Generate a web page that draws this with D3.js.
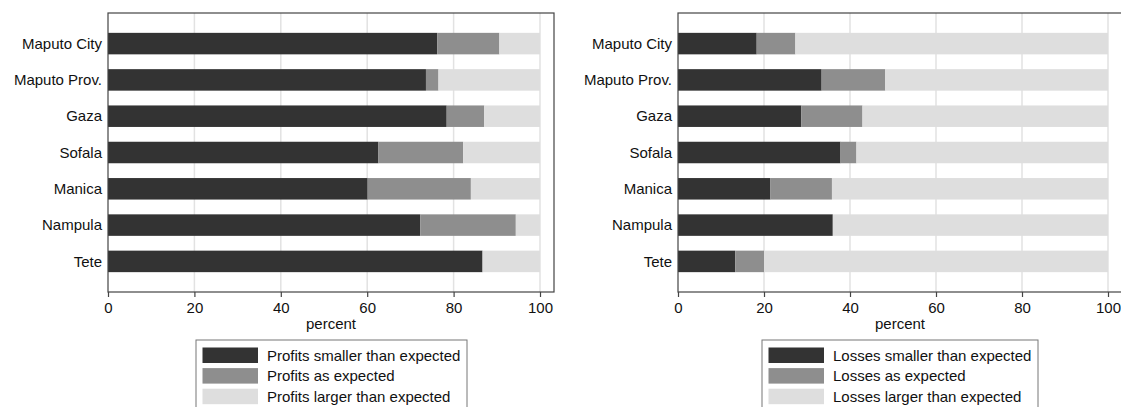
<!DOCTYPE html>
<html><head><meta charset="utf-8">
<script src="https://cdn.jsdelivr.net/npm/d3@7"></script>
<style>body{margin:0;background:#fff}svg{display:block;font-family:"Liberation Sans",Arial,sans-serif}</style>
</head><body><svg id="c" width="1121" height="407"></svg>
<script>
const categories = ["Maputo City","Maputo Prov.","Gaza","Sofala","Manica","Nampula","Tete"];
const profitsSmaller = [76.2, 73.6, 78.4, 62.6, 60.1, 72.3, 86.7];
const profitsAs      = [14.4, 2.9, 8.7, 19.6, 23.9, 22.1, 0];
const profitsLarger  = [9.4, 23.5, 12.9, 17.8, 16.0, 5.6, 13.3];
const lossesSmaller  = [18.3, 33.4, 28.7, 37.8, 21.5, 36.0, 13.3];
const lossesAs       = [9.0, 14.8, 14.2, 3.7, 14.3, 0, 6.7];
const lossesLarger   = [72.7, 51.8, 57.1, 58.5, 64.2, 64.0, 80.0];
const xTicks = [0,20,40,60,80,100];
const profitLabels = ["Profits smaller than expected","Profits as expected","Profits larger than expected"];
const lossLabels = ["Losses smaller than expected","Losses as expected","Losses larger than expected"];
const colors = ["#333333","#8e8e8e","#dedede"];
const FS = 15;

const svg = d3.select("#c");

function panel(opt, series, labels){
  const g = svg.append("g");
  const x = d3.scaleLinear().domain([0,100]).range([opt.x0, opt.x100]);
  const y = d3.scalePoint().domain(categories).range([opt.top, opt.bottom]).padding(0.843);
  const bh = 21.5;
  g.selectAll(".grid").data(xTicks.slice(1)).enter().append("line")
    .attr("x1", d=>x(d)).attr("x2", d=>x(d)).attr("y1", opt.top).attr("y2", opt.bottom)
    .attr("stroke","#e2e2e2").attr("stroke-width",1.5);
  const rows = categories.map((c,i)=>({cat:c, vals: series.map(s=>s[i])}));
  const stack = d3.stack().keys([0,1,2]).value((d,k)=>d.vals[k]);
  const layers = stack(rows);
  layers.forEach((layer,k)=>{
    g.selectAll(null).data(layer).enter().append("rect")
      .attr("x", d=>x(d[0])).attr("width", d=>Math.max(0, x(d[1])-x(d[0])))
      .attr("y", (d,i)=>y(categories[i])-bh/2).attr("height", bh)
      .attr("fill", colors[k]);
  });
  g.append("rect").attr("x", opt.x0).attr("y", opt.top)
    .attr("width", opt.right-opt.x0).attr("height", opt.bottom-opt.top)
    .attr("fill","none").attr("stroke","#444").attr("stroke-width",1.2);
  g.selectAll(".cat").data(categories).enter().append("text")
    .attr("x", opt.x0-6).attr("y", d=>y(d)).attr("dy","0.35em")
    .attr("text-anchor","end").attr("font-size",FS).attr("fill","#111").text(d=>d);
  const ax = g.append("g").attr("transform",`translate(0,${opt.bottom})`)
    .call(d3.axisBottom(x).tickValues(xTicks).tickSize(5).tickPadding(5));
  ax.select(".domain").remove();
  ax.selectAll("line").attr("stroke","#444").attr("stroke-width",1.2);
  ax.selectAll("text").attr("font-size",FS).attr("fill","#111").attr("font-family","Liberation Sans, Arial, sans-serif");
  g.append("text").attr("x", (opt.x0+opt.right)/2).attr("y", 329)
    .attr("text-anchor","middle").attr("font-size",FS).attr("fill","#111").text("percent");
  const lg = g.append("g");
  lg.append("rect").attr("x", opt.lx).attr("y", 340).attr("width", opt.lw).attr("height", 80)
    .attr("fill","#fff").attr("stroke","#777").attr("stroke-width",1);
  labels.forEach((t,k)=>{
    lg.append("rect").attr("x", opt.lx+6.5).attr("y", 347.5+k*20.6).attr("width",55.5).attr("height",15.5).attr("fill",colors[k]);
    lg.append("text").attr("x", opt.lx+71).attr("y", 355.5+k*20.6).attr("dy","0.35em")
      .attr("font-size",FS).attr("fill","#111").text(t);
  });
}

panel({x0:108, x100:540, right:554, top:13, bottom:292, lx:196, lw:271}, [profitsSmaller,profitsAs,profitsLarger], profitLabels);
panel({x0:678, x100:1108, right:1122, top:13, bottom:292, lx:762, lw:276}, [lossesSmaller,lossesAs,lossesLarger], lossLabels);
</script></body></html>
